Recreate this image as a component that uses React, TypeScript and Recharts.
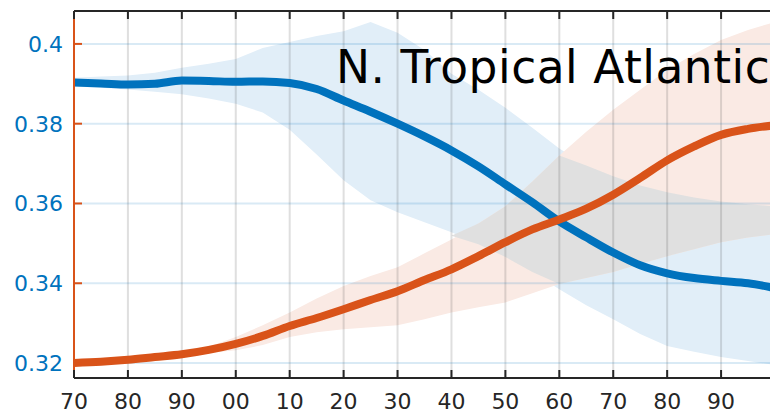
import React from 'react';
import { ComposedChart, Area, Line, XAxis, YAxis, ReferenceLine } from 'recharts';

// every 5 years, 1970-2100
const years = [
  1970, 1975, 1980, 1985, 1990, 1995, 2000, 2005, 2010, 2015, 2020, 2025, 2030, 2035,
  2040, 2045, 2050, 2055, 2060, 2065, 2070, 2075, 2080, 2085, 2090, 2095, 2100,
];

const blueMean = [
  0.3903, 0.3901, 0.3898, 0.39, 0.3908, 0.3907, 0.3905, 0.3906, 0.3902, 0.3887, 0.3858, 0.383, 0.38, 0.3768,
  0.3733, 0.3693, 0.3648, 0.3603, 0.3555, 0.3515, 0.3477, 0.3445, 0.3425, 0.3413, 0.3406, 0.34, 0.3388,
];
const blueHigh = [
  0.3915, 0.3918, 0.3921, 0.3928, 0.394, 0.395, 0.3962, 0.399, 0.4005, 0.402, 0.4032, 0.4055, 0.4028, 0.3985,
  0.3925, 0.3885, 0.384, 0.379, 0.3738, 0.3695, 0.3668, 0.3645, 0.3628, 0.3615, 0.3605, 0.3598, 0.3593,
];
const blueLow = [
  0.3893, 0.389, 0.3886, 0.388, 0.3874, 0.3863, 0.385, 0.3828, 0.3785, 0.3723, 0.3658, 0.3608, 0.3578, 0.3553,
  0.3528, 0.3498, 0.3466, 0.3428, 0.3385, 0.3345, 0.331, 0.3273, 0.3243, 0.3228, 0.3215, 0.3205, 0.3195,
];

const orangeMean = [
  0.32, 0.3203, 0.3208, 0.3215, 0.3222, 0.3233, 0.3248, 0.3268, 0.3293, 0.3313, 0.3335, 0.3358, 0.338, 0.3408,
  0.3435, 0.3468, 0.3503, 0.3535, 0.356, 0.3587, 0.3622, 0.3664, 0.3708, 0.3743, 0.3772, 0.3787, 0.3796,
];
const orangeHigh = [
  0.3204, 0.3207, 0.3212, 0.3219, 0.3227, 0.3241, 0.3265, 0.3295, 0.3327, 0.3362, 0.3393, 0.3418, 0.344, 0.3475,
  0.351, 0.355, 0.3593, 0.3655, 0.372, 0.378, 0.3835, 0.3885, 0.3935, 0.3975, 0.401, 0.4035, 0.4055,
];
const orangeLow = [
  0.3196, 0.3199, 0.3204, 0.321, 0.3216, 0.3225, 0.3232, 0.3245, 0.3265, 0.3277, 0.3285, 0.329, 0.3295, 0.331,
  0.3327, 0.334, 0.3352, 0.3375, 0.3398, 0.3413, 0.3428, 0.3448, 0.3468, 0.3485, 0.3503, 0.3515, 0.3523,
];

const decades = [1970, 1980, 1990, 2000, 2010, 2020, 2030, 2040, 2050, 2060, 2070, 2080, 2090];
const yTicks = [0.32, 0.34, 0.36, 0.38, 0.4];
const title = 'N. Tropical Atlantic';

const BLUE = '#0072BD';
const ORANGE = '#D95319';
const INK = '#262626';
const FONT = 'DejaVu Sans';

// overlap of the two bands, drawn in grey on top
const data = years.map((year, i) => {
  const lo = Math.max(blueLow[i], orangeLow[i]);
  const hi = Math.min(blueHigh[i], orangeHigh[i]);
  const mid = (lo + hi) / 2;
  return {
    year,
    blue: blueMean[i],
    orange: orangeMean[i],
    blueBand: [blueLow[i], blueHigh[i]],
    orangeBand: [orangeLow[i], orangeHigh[i]],
    overlap: hi > lo ? [lo, hi] : [mid, mid],
  };
});

const fmtYear = (v: number) => String(v % 100).padStart(2, '0');
const fmtY = (v: number) => String(Number(v.toFixed(2)));

const LeftTick = ({ x, y, payload }: any) => (
  <g>
    <line x1={x} x2={x + 8} y1={y} y2={y} stroke={ORANGE} strokeWidth={2} />
    <text x={x - 11} y={y} dy="0.36em" textAnchor="end" fill={BLUE} fontSize={22} fontFamily={FONT}>
      {fmtY(payload.value)}
    </text>
  </g>
);

const RightTick = ({ x, y }: any) => (
  <line x1={x - 8} x2={x} y1={y} y2={y} stroke={ORANGE} strokeWidth={2} />
);

const BottomTick = ({ x, y, payload }: any) => (
  <g>
    <line x1={x} x2={x} y1={y} y2={y - 8} stroke={INK} strokeWidth={2} />
    <text x={x} y={y + 15} dy="0.71em" textAnchor="middle" fill={INK} fontSize={22} fontFamily={FONT}>
      {fmtYear(payload.value)}
    </text>
  </g>
);

const TopTick = ({ x, y }: any) => (
  <line x1={x} x2={x} y1={y} y2={y + 8} stroke={INK} strokeWidth={2} />
);

export default function App() {
  return (
    <div
      style={{
        position: 'fixed',
        left: 0,
        top: 0,
        width: 770,
        height: 411,
        overflow: 'hidden',
        background: '#fff',
        fontFamily: FONT,
      }}
    >
      <ComposedChart width={800} height={411} data={data} margin={{ top: 10, right: 15, bottom: 0, left: 0 }}>
        <XAxis
          dataKey="year"
          type="number"
          domain={[1970, 2100]}
          ticks={decades}
          interval={0}
          height={33}
          tickSize={0}
          tickMargin={0}
          tickLine={false}
          tick={<BottomTick />}
          axisLine={{ stroke: INK, strokeWidth: 2 }}
        />
        <XAxis
          xAxisId="top"
          orientation="top"
          dataKey="year"
          type="number"
          domain={[1970, 2100]}
          ticks={decades}
          interval={0}
          height={1}
          tickSize={0}
          tickMargin={0}
          tickLine={false}
          tick={<TopTick />}
          axisLine={{ stroke: INK, strokeWidth: 2 }}
        />
        <YAxis
          type="number"
          domain={[0.31625, 0.40825]}
          ticks={yTicks}
          interval={0}
          width={74}
          tickSize={0}
          tickMargin={0}
          tickLine={false}
          tick={<LeftTick />}
          axisLine={{ stroke: ORANGE, strokeWidth: 2 }}
        />
        <YAxis
          yAxisId="r"
          orientation="right"
          type="number"
          domain={[0.31625, 0.40825]}
          ticks={yTicks}
          interval={0}
          width={10}
          tickSize={0}
          tickMargin={0}
          tickLine={false}
          tick={<RightTick />}
          axisLine={{ stroke: ORANGE, strokeWidth: 2 }}
        />

        <Area dataKey="blueBand" type="linear" stroke="none" fill="#E1EEF8" fillOpacity={1} isAnimationActive={false} />
        <Area dataKey="orangeBand" type="linear" stroke="none" fill="#FAEAE4" fillOpacity={1} isAnimationActive={false} />
        <Area dataKey="overlap" type="linear" stroke="none" fill="#E0E0E0" fillOpacity={1} isAnimationActive={false} />

        {decades.slice(1).map((d) => (
          <ReferenceLine key={`v${d}`} x={d} stroke="rgba(38,38,38,0.15)" strokeWidth={2} />
        ))}
        {yTicks.map((t) => (
          <ReferenceLine key={`h${t}`} y={t} stroke="rgba(0,114,189,0.15)" strokeWidth={2} />
        ))}

        <Line dataKey="blue" type="monotone" stroke={BLUE} strokeWidth={8} dot={false} isAnimationActive={false} />
        <Line dataKey="orange" type="monotone" stroke={ORANGE} strokeWidth={8} dot={false} isAnimationActive={false} />
      </ComposedChart>
      <svg width={770} height={411} style={{ position: 'absolute', left: 0, top: 0, pointerEvents: 'none' }}>
        <text x={336} y={83} fontSize={45.5} letterSpacing={0.5} fontFamily={FONT} fill="#000">
          {title}
        </text>
      </svg>
    </div>
  );
}
